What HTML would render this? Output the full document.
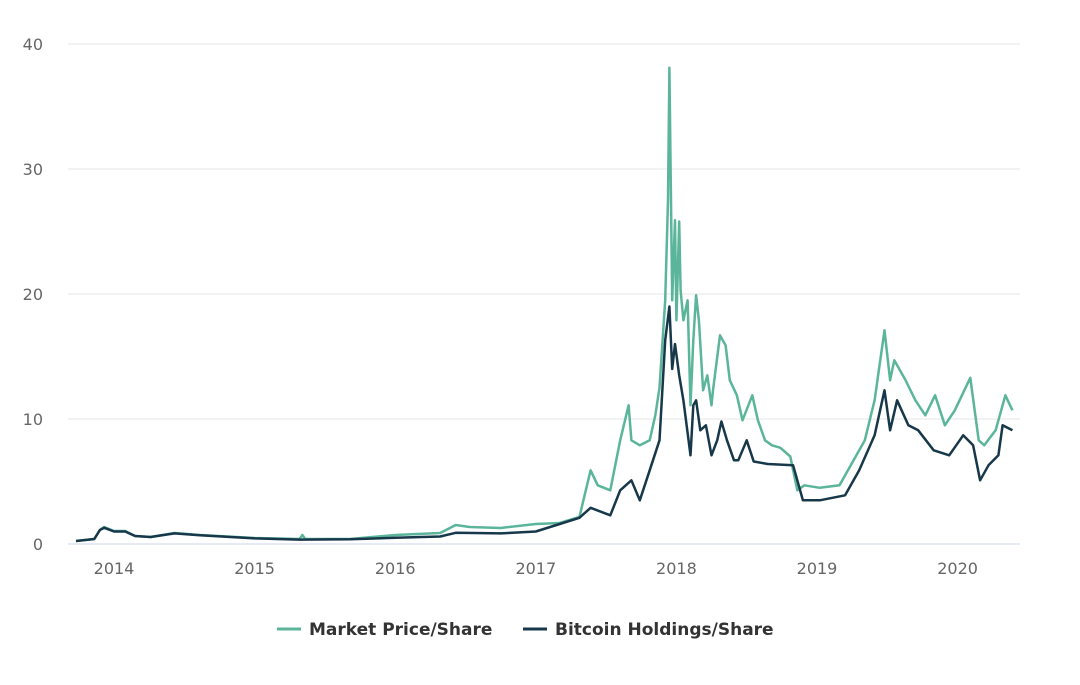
<!DOCTYPE html>
<html><head><meta charset="utf-8"><style>
body{margin:0;background:#fff;font-family:"DejaVu Sans","Liberation Sans",sans-serif}
</style></head><body>
<svg id="chart" width="1080" height="681" xmlns="http://www.w3.org/2000/svg" font-family="DejaVu Sans, Liberation Sans, sans-serif"></svg>
<script>
const yTicks=[0,10,20,30,40];
const xTicks=[2014,2015,2016,2017,2018,2019,2020];
const marketDates=[2013.73,2013.86,2013.90,2013.93,2014.00,2014.08,2014.15,2014.26,2014.43,2014.61,2015.00,2015.32,2015.34,2015.36,2015.68,2016.00,2016.32,2016.43,2016.53,2016.75,2017.00,2017.17,2017.31,2017.39,2017.44,2017.53,2017.60,2017.66,2017.68,2017.74,2017.81,2017.85,2017.88,2017.92,2017.94,2017.95,2017.97,2017.99,2018.00,2018.02,2018.03,2018.05,2018.08,2018.10,2018.12,2018.14,2018.16,2018.19,2018.22,2018.25,2018.26,2018.31,2018.35,2018.38,2018.43,2018.47,2018.54,2018.58,2018.63,2018.68,2018.74,2018.81,2018.86,2018.91,2019.02,2019.16,2019.27,2019.34,2019.41,2019.48,2019.52,2019.55,2019.63,2019.70,2019.77,2019.84,2019.91,2019.98,2020.09,2020.15,2020.19,2020.27,2020.34,2020.39];
const marketValues=[0.24,0.4,1.12,1.36,1.04,1.04,0.64,0.56,0.88,0.72,0.48,0.4,0.72,0.4,0.4,0.72,0.88,1.52,1.36,1.28,1.6,1.68,2.16,5.9,4.7,4.3,8.3,11.1,8.3,7.9,8.3,10.3,12.5,19.5,27.5,38.1,19.5,25.9,17.9,25.8,20.3,17.9,19.5,11.1,16.3,19.9,17.9,12.3,13.5,11.1,12.3,16.7,15.9,13.1,11.9,9.9,11.9,9.9,8.3,7.9,7.7,7.0,4.3,4.7,4.5,4.7,6.9,8.3,11.5,17.1,13.1,14.7,13.1,11.5,10.3,11.9,9.5,10.7,13.3,8.3,7.9,9.1,11.9,10.7];
const holdDates=[2013.73,2013.86,2013.90,2013.93,2014.00,2014.08,2014.15,2014.26,2014.43,2014.61,2015.00,2015.32,2015.68,2016.00,2016.32,2016.43,2016.75,2017.00,2017.17,2017.31,2017.39,2017.53,2017.60,2017.68,2017.74,2017.81,2017.88,2017.92,2017.95,2017.97,2017.99,2018.02,2018.05,2018.10,2018.12,2018.14,2018.17,2018.21,2018.25,2018.29,2018.32,2018.36,2018.41,2018.44,2018.50,2018.55,2018.65,2018.83,2018.90,2019.02,2019.20,2019.30,2019.41,2019.48,2019.52,2019.57,2019.65,2019.72,2019.83,2019.94,2020.04,2020.11,2020.16,2020.22,2020.29,2020.32,2020.39];
const holdValues=[0.24,0.4,1.12,1.3,1.0,1.0,0.64,0.56,0.85,0.7,0.45,0.35,0.38,0.5,0.6,0.9,0.85,1.0,1.6,2.1,2.9,2.3,4.3,5.1,3.5,5.9,8.3,16.3,19.0,14.0,16.0,13.5,11.5,7.1,11.1,11.5,9.1,9.5,7.1,8.3,9.8,8.3,6.7,6.7,8.3,6.6,6.4,6.3,3.5,3.5,3.9,5.9,8.7,12.3,9.1,11.5,9.5,9.1,7.5,7.1,8.7,7.9,5.1,6.3,7.1,9.5,9.1];
const NS="http://www.w3.org/2000/svg";
const svg=document.getElementById('chart');
const xS=d=>114+(d-2014)*140.6;
const yS=v=>544-v*12.5;
function mk(t,a){const e=document.createElementNS(NS,t);for(const k in a)e.setAttribute(k,a[k]);svg.appendChild(e);return e;}
yTicks.forEach(v=>{
  const l=mk('line',{x1:68,x2:1020,y1:yS(v),y2:yS(v),stroke:v===0?'#ccd6eb':'#e6e6e6','stroke-width':1});
  
  
  const t=mk('text',{x:43,y:yS(v)+6,'text-anchor':'end','font-size':16,fill:'#666'});
  t.textContent=v;
  
  
});
xTicks.forEach(v=>{
  const t=mk('text',{x:xS(v),y:574,'text-anchor':'middle','font-size':16,fill:'#666'});
  t.textContent=v;
  
  
});
function line(ds,vs,c,n){
  const p=mk('path',{d:ds.map((d,i)=>(i?'L':'M')+xS(d).toFixed(1)+','+yS(vs[i]).toFixed(1)).join(''),fill:'none',stroke:c,'stroke-width':2.5,'stroke-linejoin':'round'});
  
  
}
line(marketDates,marketValues,'#5bb59a','market-price-line');
line(holdDates,holdValues,'#17384a','bitcoin-holdings-line');
function leg(x,c,txt,n){
  const g=mk('g',{});
  
  
  const l=document.createElementNS(NS,'line');
  l.setAttribute('x1',x);l.setAttribute('x2',x+24);l.setAttribute('y1',629);l.setAttribute('y2',629);
  l.setAttribute('stroke',c);l.setAttribute('stroke-width',3);g.appendChild(l);
  const t=document.createElementNS(NS,'text');
  t.setAttribute('x',x+32);t.setAttribute('y',635);t.setAttribute('font-size',17);
  t.setAttribute('font-weight','bold');t.setAttribute('fill','#333');t.textContent=txt;g.appendChild(t);
}
leg(277,'#5bb59a','Market Price/Share','legend-market-price');
leg(523,'#17384a','Bitcoin Holdings/Share','legend-bitcoin-holdings');
</script>
</body></html>
